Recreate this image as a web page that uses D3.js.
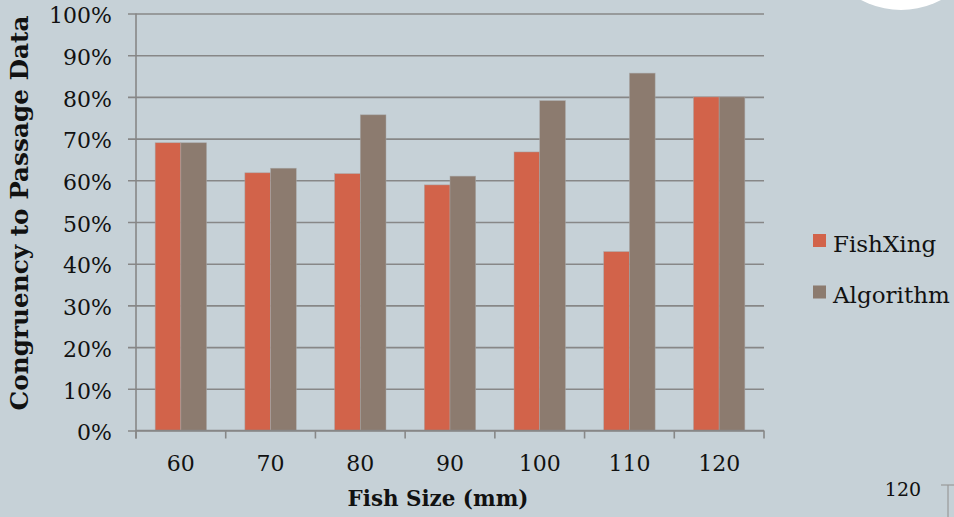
<!DOCTYPE html>
<html>
<head>
<meta charset="utf-8">
<script src="https://cdn.jsdelivr.net/npm/d3@7"></script>
<style>
  html, body { margin: 0; padding: 0; background: #c6d1d7; }
  svg { display: block; }
</style>
</head>
<body>
<script>
const categories = ["60", "70", "80", "90", "100", "110", "120"];
const seriesNames = ["FishXing", "Algorithm"];
const fishXing = [0.69, 0.618, 0.616, 0.589, 0.668, 0.429, 0.80];
const algorithm = [0.69, 0.629, 0.757, 0.610, 0.791, 0.857, 0.80];
const yTicks = [0, 0.1, 0.2, 0.3, 0.4, 0.5, 0.6, 0.7, 0.8, 0.9, 1.0];
const colors = ["#d2634a", "#8c7b6f"];

(function () {
const W = 954, H = 517;
const mLeft = 136, mRight = 764, mTop = 13.5, mBottom = 430.5;
const font = "Georgia, 'DejaVu Serif', serif";

const svg = d3.select("body").append("svg").attr("width", W).attr("height", H);
svg.append("rect").attr("width", W).attr("height", H).attr("fill", "#c6d1d7");

// decorative white circle top right
svg.append("circle").attr("cx", 901).attr("cy", -75).attr("r", 85).attr("fill", "#ffffff");

const x = d3.scaleBand().domain(categories).range([mLeft, mRight]).padding(0);
const bw = x.bandwidth();
const inner = d3.scaleBand().domain(seriesNames).range([bw * 0.2135, bw * 0.7865]).padding(0);
const y = d3.scaleLinear().domain([0, 1]).range([mBottom, mTop]);

// gridlines + y axis
const yAxis = d3.axisLeft(y).tickValues(yTicks).tickSize(8).tickFormat(d3.format(".0%")).tickPadding(16);
const gy = svg.append("g").attr("transform", `translate(${mLeft},0)`).call(yAxis);
gy.select(".domain").remove();
gy.selectAll(".tick line").attr("x2", mRight - mLeft).attr("x1", -8)
  .attr("stroke", "#878787").attr("stroke-width", 1.6);
gy.selectAll(".tick text").attr("font-family", font).attr("font-size", 22)
  .attr("fill", "#111").attr("dy", "0.42em");

svg.append("line").attr("x1", mLeft).attr("x2", mLeft).attr("y1", mTop).attr("y2", mBottom + 8)
  .attr("stroke", "#878787").attr("stroke-width", 1.6);

// bars
const data = categories.map((c, i) => ({ cat: c, vals: [fishXing[i], algorithm[i]] }));
const groups = svg.append("g").selectAll("g").data(data).join("g")
  .attr("transform", d => `translate(${x(d.cat)},0)`);
groups.selectAll("rect").data(d => d.vals.map((v, j) => ({ s: seriesNames[j], v, j })))
  .join("rect")
  .attr("x", d => inner(d.s))
  .attr("width", inner.bandwidth())
  .attr("y", d => y(d.v))
  .attr("height", d => y(0) - y(d.v))
  .attr("fill", d => colors[d.j])
  .attr("stroke", "#a7a7a7").attr("stroke-width", 0.6).attr("stroke-opacity", 0.8);

// x axis
const xAxis = d3.axisBottom(x).tickSize(0).tickPadding(0);
const gx = svg.append("g").attr("transform", `translate(0,${mBottom})`).call(xAxis);
gx.select(".domain").remove();
gx.selectAll(".tick text").attr("font-family", font).attr("font-size", 22)
  .attr("fill", "#111").attr("y", 40).attr("dy", 0);
svg.append("line").attr("x1", mLeft).attr("x2", mRight).attr("y1", mBottom).attr("y2", mBottom)
  .attr("stroke", "#878787").attr("stroke-width", 1.6);
const bounds = categories.map(c => x(c)).concat([mRight]);
svg.append("g").selectAll("line").data(bounds).join("line")
  .attr("x1", d => d).attr("x2", d => d).attr("y1", mBottom).attr("y2", mBottom + 8)
  .attr("stroke", "#878787").attr("stroke-width", 1.6);

// axis titles
function fit(sel, target) {
  const w = sel.node().getComputedTextLength();
  const fs = parseFloat(sel.attr("font-size"));
  if (w > 0) sel.attr("font-size", fs * target / w);
}
const xt = svg.append("text").attr("x", 438).attr("y", 506).attr("text-anchor", "middle")
  .attr("font-family", font).attr("font-weight", "bold").attr("font-size", 21)
  .attr("fill", "#111").text("Fish Size (mm)");
fit(xt, 181);
const yt = svg.append("text").attr("transform", "translate(28,213) rotate(-90)")
  .attr("text-anchor", "middle")
  .attr("font-family", font).attr("font-weight", "bold").attr("font-size", 21)
  .attr("fill", "#111").text("Congruency to Passage Data");
fit(yt, 395);

// legend
const leg = svg.append("g").selectAll("g").data(seriesNames).join("g")
  .attr("transform", (d, i) => `translate(813,${234 + i * 51.5})`);
leg.append("rect").attr("width", 13).attr("height", 13).attr("fill", (d, i) => colors[i]);
leg.append("text").attr("x", 20).attr("y", 17.5).attr("font-family", font).attr("font-size", 23)
  .attr("fill", "#111").text(d => d);

// stray fragment bottom right
svg.append("text").attr("x", 903).attr("y", 496).attr("text-anchor", "middle")
  .attr("font-family", font).attr("font-size", 19).attr("fill", "#111").text("120");
svg.append("line").attr("x1", 941).attr("x2", 954).attr("y1", 485).attr("y2", 485)
  .attr("stroke", "#999").attr("stroke-width", 1.2);
svg.append("line").attr("x1", 948).attr("x2", 948).attr("y1", 485).attr("y2", 517)
  .attr("stroke", "#999").attr("stroke-width", 1.2);
})();
</script>
</body>
</html>
